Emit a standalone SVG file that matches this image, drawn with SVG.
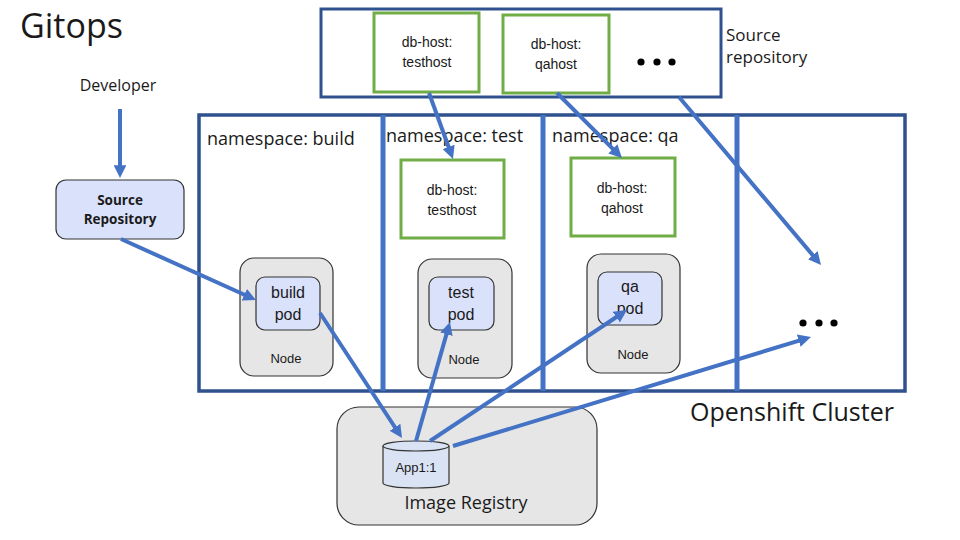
<svg xmlns="http://www.w3.org/2000/svg" width="960" height="540" viewBox="0 0 960 540">
<defs>
<style>
.plex{font-family:"Open Sans","Noto Sans",sans-serif;fill:#1a1a1a}
.cal{font-family:"Liberation Sans","Noto Sans",sans-serif;fill:#1a1a1a}
.green{fill:#fff;stroke:#70AD47;stroke-width:3}
.node{fill:#E6E6E6;stroke:#333;stroke-width:1.2}
.pod{fill:#DAE1FA;stroke:#333;stroke-width:1.2}
.div{stroke:#4472C4;stroke-width:5}
.conn line{stroke:#4472C4;stroke-width:4;marker-end:url(#ah)}
</style>
<marker id="ah" viewBox="0 0 10 10" refX="3" refY="5" markerWidth="3.2" markerHeight="3.2" orient="auto" markerUnits="strokeWidth">
<path d="M0,0 L10,5 L0,10 z" fill="#4472C4"/>
</marker>
</defs>
<rect width="960" height="540" fill="#fff"/>
<text class="plex" x="20" y="38" font-size="34">Gitops</text>

<g id="developer"><text class="plex" x="118" y="91" font-size="16" text-anchor="middle">Developer</text></g>

<g id="source-repository">
<rect x="56" y="180" width="128" height="59" rx="10" class="pod"/>
<text class="plex" x="120" y="205" font-size="13.5" font-weight="bold" text-anchor="middle">Source</text>
<text class="plex" x="120" y="224" font-size="13.5" font-weight="bold" text-anchor="middle">Repository</text>
</g>

<g id="source-repo-top">
<rect x="321" y="9" width="400" height="88" fill="#fff" stroke="#2F528F" stroke-width="3"/>
<g id="top-testhost"><rect x="374" y="13" width="105" height="79" class="green"/>
<text class="cal" x="427" y="47" font-size="14" text-anchor="middle">db-host:</text>
<text class="cal" x="427" y="67" font-size="14" text-anchor="middle">testhost</text></g>
<g id="top-qahost"><rect x="503" y="15" width="106" height="78" class="green"/>
<text class="cal" x="556" y="49" font-size="14" text-anchor="middle">db-host:</text>
<text class="cal" x="556" y="69" font-size="14" text-anchor="middle">qahost</text></g>
<g fill="#000"><circle cx="641" cy="62" r="3.6"/><circle cx="657" cy="62" r="3.6"/><circle cx="672" cy="62" r="3.6"/></g>
<text class="plex" x="726" y="41" font-size="17">Source</text>
<text class="plex" x="726" y="63" font-size="17">repository</text>
</g>

<g id="cluster">
<rect x="199" y="115" width="706" height="276" fill="none" stroke="#2F528F" stroke-width="3.5"/>
<line x1="383" y1="115" x2="383" y2="391" class="div"/>
<line x1="543" y1="115" x2="543" y2="391" class="div"/>
<line x1="737" y1="115" x2="737" y2="391" class="div"/>
<text class="plex" x="690" y="421" font-size="25">Openshift Cluster</text>
<g fill="#000"><circle cx="803" cy="323" r="3.6"/><circle cx="819" cy="323" r="3.6"/><circle cx="834" cy="323" r="3.6"/></g>
</g>

<g id="ns-build">
<text class="plex" x="207" y="145" font-size="18">namespace: build</text>
<rect x="240" y="258" width="93" height="118" rx="14" class="node"/>
<text class="cal" x="286" y="363" font-size="13" text-anchor="middle">Node</text>
<rect x="256" y="277" width="64" height="53" rx="9" class="pod"/>
<text class="cal" x="288" y="298" font-size="16" text-anchor="middle">build</text>
<text class="cal" x="288" y="320" font-size="16" text-anchor="middle">pod</text>
</g>

<g id="ns-test">
<text class="plex" x="386" y="142" font-size="18">namespace: test</text>
<rect x="401" y="160" width="103" height="78" class="green"/>
<text class="cal" x="452" y="195" font-size="14" text-anchor="middle">db-host:</text>
<text class="cal" x="452" y="215" font-size="14" text-anchor="middle">testhost</text>
<rect x="418" y="259" width="94" height="119" rx="14" class="node"/>
<text class="cal" x="464" y="364" font-size="13" text-anchor="middle">Node</text>
<rect x="429" y="277" width="65" height="53" rx="9" class="pod"/>
<text class="cal" x="461" y="298" font-size="16" text-anchor="middle">test</text>
<text class="cal" x="461" y="320" font-size="16" text-anchor="middle">pod</text>
</g>

<g id="ns-qa">
<text class="plex" x="552" y="142" font-size="18">namespace: qa</text>
<rect x="571" y="158" width="104" height="78" class="green"/>
<text class="cal" x="622" y="193" font-size="14" text-anchor="middle">db-host:</text>
<text class="cal" x="622" y="213" font-size="14" text-anchor="middle">qahost</text>
<rect x="587" y="254" width="93" height="119" rx="14" class="node"/>
<text class="cal" x="633" y="359" font-size="13" text-anchor="middle">Node</text>
<rect x="598" y="272" width="64" height="53" rx="9" class="pod"/>
<text class="cal" x="630" y="292" font-size="16" text-anchor="middle">qa</text>
<text class="cal" x="630" y="314" font-size="16" text-anchor="middle">pod</text>
</g>

<g id="image-registry">
<rect x="337" y="407" width="260" height="118" rx="22" class="node"/>
<text class="plex" x="466" y="509" font-size="18" text-anchor="middle">Image Registry</text>
<g id="app-image">
<path d="M383,446 L383,483 A33,5 0 0 0 449,483 L449,446" fill="#DAE3F3" stroke="#333" stroke-width="1.2"/>
<ellipse cx="416" cy="446" rx="33" ry="5" fill="#DAE3F3" stroke="#333" stroke-width="1.2"/>
<text class="cal" x="416" y="472" font-size="13" text-anchor="middle">App1:1</text>
</g>
</g>

<g id="connectors" class="conn">
<line x1="120" y1="109" x2="120" y2="169"/>
<line x1="121" y1="239" x2="247.8" y2="296.3"/>
<line x1="429" y1="93" x2="449.9" y2="150.5"/>
<line x1="557" y1="93" x2="615.6" y2="151.6"/>
<line x1="679" y1="97" x2="815.2" y2="258.1"/>
<line x1="320" y1="313" x2="397.1" y2="430.5"/>
<line x1="416" y1="441" x2="447.5" y2="330.6"/>
<line x1="430" y1="441" x2="619.5" y2="315"/>
<line x1="453" y1="446" x2="802.4" y2="339.6"/>
</g>
</svg>
